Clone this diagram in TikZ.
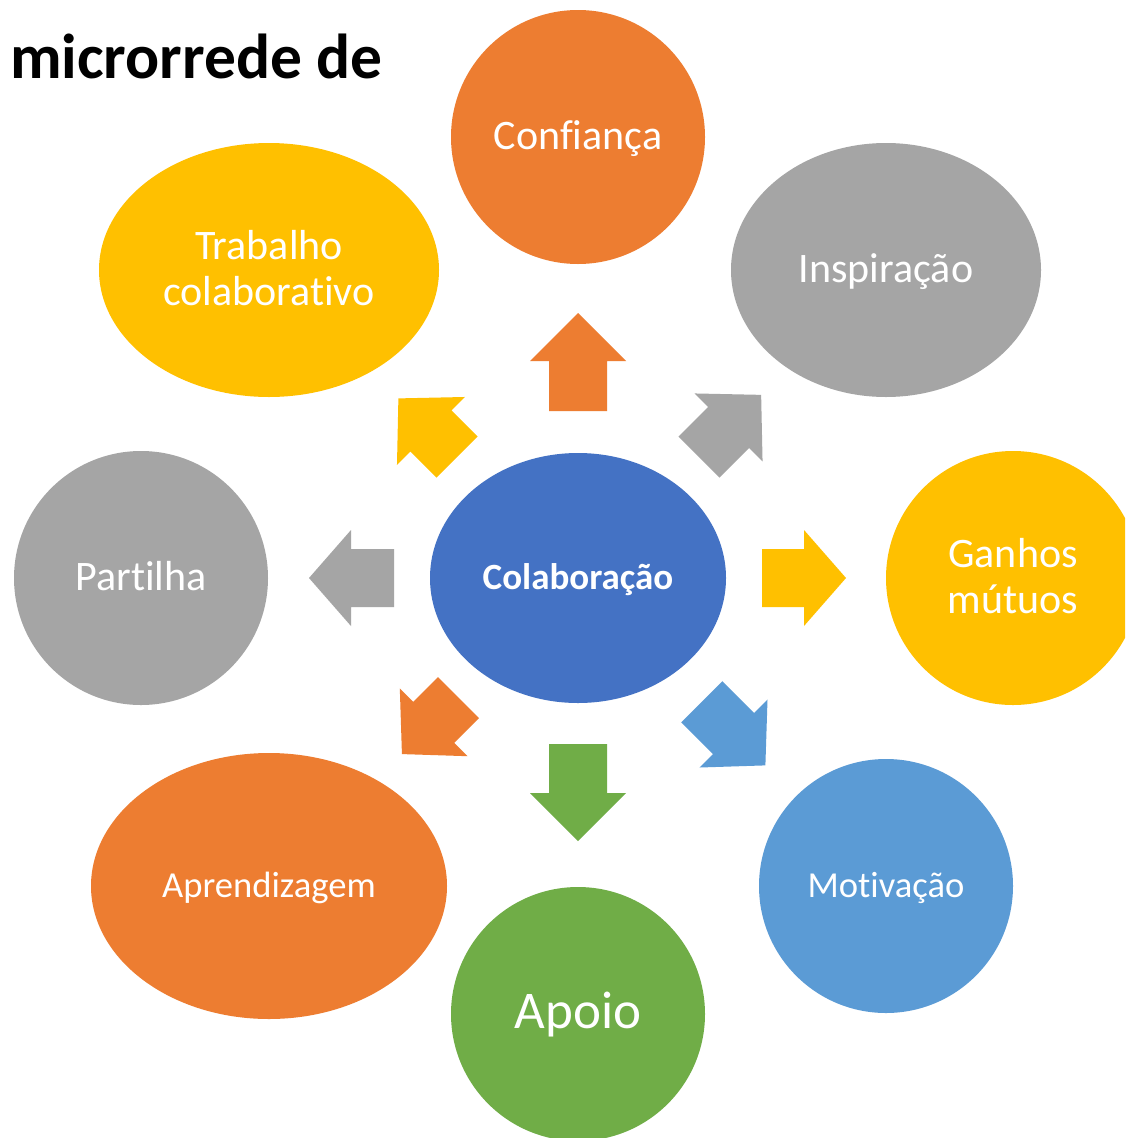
\documentclass[tikz,border=0pt]{standalone}
\usepackage{fontspec}
\setmainfont{Carlito}[Ligatures={NoCommon,NoRare,NoContextual}]
\usetikzlibrary{shapes.geometric}
\definecolor{cOrange}{HTML}{ED7D31}
\definecolor{cGray}{HTML}{A5A5A5}
\definecolor{cYellow}{HTML}{FFC000}
\definecolor{cBlue}{HTML}{4472C4}
\definecolor{cLBlue}{HTML}{5B9BD5}
\definecolor{cGreen}{HTML}{70AD47}
\newcommand\fsz[1]{\fontsize{#1}{#1}\selectfont}
% block arrow: colour, angle, shaft start, head base, tip
\newcommand\blockarrow[5]{%
  \fill[#1, shift={(colab.center)}, rotate=#2]
    (#3,-29) -- (#4,-29) -- (#4,-48) -- (#5,0) -- (#4,48) -- (#4,29) -- (#3,29) -- cycle;}
\tikzset{
  blob/.style={fill=#1, draw=none, inner sep=0pt},
  circ/.style={circle, minimum size=254pt},
  oval/.style 2 args={ellipse, minimum width=#1pt, minimum height=#2pt},
  lbl/.style={text=white, anchor=base, inner sep=0pt},
}
\begin{document}
\begin{tikzpicture}[x=1pt,y=-1pt]
\clip (0,0) rectangle (1125,1138);
\fill[white] (0,0) rectangle (1125,1138);

% title
\node[anchor=base west, inner sep=0pt, font=\fsz{63.5}\bfseries] (title) at (10,78) {microrrede de};

% shapes
\node[blob=cBlue, oval={296}{250}] (colab) at (578,578) {};
\node[blob=cOrange, circ] (conf) at (578,137) {};
\node[blob=cGray, oval={310}{254}] (insp) at (886,270) {};
\node[blob=cYellow, circ] (ganhos) at (1013,578) {};
\node[blob=cLBlue, circ] (motiv) at (886,886) {};
\node[blob=cGreen, circ] (apoio) at (578,1014) {};
\node[blob=cOrange, oval={356}{266}] (aprend) at (269,886) {};
\node[blob=cGray, circ] (partilha) at (141,578) {};
\node[blob=cYellow, oval={340}{254}] (trab) at (269,270) {};

% labels
\node[lbl, font=\fsz{37}\bfseries] (tcolab) at ([yshift=-11pt]colab.center) {Colaboração};
\node[lbl, font=\fsz{42}] (tconf) at ([yshift=-12pt]conf.center) {Confiança};
\node[lbl, font=\fsz{42}] (tinsp) at ([yshift=-12pt]insp.center) {Inspiração};
\node[lbl, font=\fsz{42}] (tgan1) at ([yshift=11pt]ganhos.center) {Ganhos};
\node[lbl, font=\fsz{42}] (tgan2) at ([yshift=-35pt]ganhos.center) {mútuos};
\node[lbl, font=\fsz{36.6}] (tmotiv) at ([yshift=-11pt]motiv.center) {Motivação};
\node[lbl, font=\fsz{53}] (tapoio) at ([yshift=-14pt]apoio.center) {Apoio};
\node[lbl, font=\fsz{36.6}] (taprend) at ([yshift=-11pt]aprend.center) {Aprendizagem};
\node[lbl, font=\fsz{42}] (tpart) at ([yshift=-12pt]partilha.center) {Partilha};
\node[lbl, font=\fsz{42}] (ttrab1) at ([yshift=11pt]trab.center) {Trabalho};
\node[lbl, font=\fsz{42}] (ttrab2) at ([yshift=-35pt]trab.center) {colaborativo};

% block arrows from the centre
\blockarrow{cOrange}{90}{167}{217}{265}
\blockarrow{cGreen}{-90}{166}{215}{263}
\blockarrow{cYellow}{0}{184}{226}{268}
\blockarrow{cGray}{180}{184}{227}{269}
\blockarrow{cGray}{45}{171}{213}{259}
\blockarrow{cYellow}{135}{171}{208}{254}
\blockarrow{cLBlue}{-45}{175}{220}{265}
\blockarrow{cOrange}{-135}{169}{204}{249}
\end{tikzpicture}
\end{document}
